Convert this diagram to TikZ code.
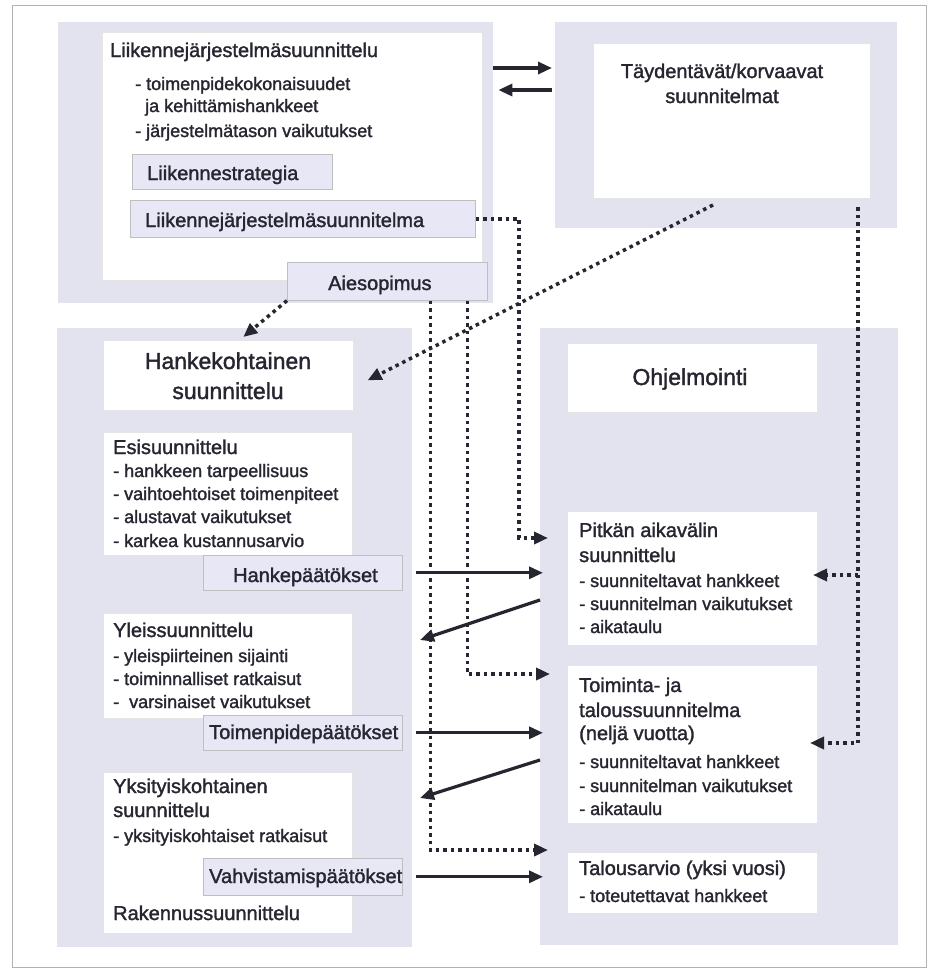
\documentclass[tikz,border=0pt]{standalone}
\usepackage{fontspec}
\setmainfont{Liberation Sans}[BoldFont={Liberation Sans}, BoldFeatures={FakeBold=1.6}]
\usetikzlibrary{arrows.meta}
\definecolor{lav}{RGB}{227,227,240}
\definecolor{lavlbl}{RGB}{231,231,245}
\definecolor{ink}{RGB}{38,38,48}
\tikzset{
  panel/.style={fill=lav, draw=none, inner sep=0pt, anchor=north west},
  wbox/.style={fill=white, draw=black!10, line width=0.6pt, inner sep=0pt, anchor=north west},
  lbl/.style={fill=lavlbl, draw=black!25, line width=0.6pt, inner sep=0pt, anchor=north west},
  tx/.style={anchor=base west, inner sep=0pt, text=ink, font=\fontsize{18}{22}\selectfont\bfseries},
  hd/.style={tx, font=\fontsize{20}{24}\selectfont\bfseries},
  hdc/.style={hd, anchor=base},
  big/.style={anchor=base, inner sep=0pt, text=ink, font=\fontsize{23}{28}\selectfont\bfseries},
  arr/.style={draw=ink, line width=3.2pt, -{Triangle[length=14pt,width=12pt]}},
  dotarr/.style={draw=ink, line width=3.5pt, dash pattern=on 3.5pt off 4pt,
                 -{Triangle[length=14pt,width=12pt]}},
}
\begin{document}
\begin{tikzpicture}[x=1pt,y=-1pt]
  \useasboundingbox (0,0) rectangle (931,970);
  % faint outer frame
  \draw[black!30, line width=0.8pt] (12,5) rectangle (926,967);

  % lavender background panels
  \node[panel, minimum width=435pt, minimum height=281pt] (P1) at (58,22) {};
  \node[panel, minimum width=342pt, minimum height=206pt] (P2) at (555,22) {};
  \node[panel, minimum width=355pt, minimum height=619pt] (P3) at (57,328) {};
  \node[panel, minimum width=358pt, minimum height=617pt] (P4) at (540,328) {};

  % white content boxes
  \node[wbox, minimum width=380pt, minimum height=248pt] (W1) at (102,32) {};
  \node[wbox, minimum width=277pt, minimum height=155pt] (W2) at (593,43) {};
  \node[wbox, minimum width=250pt, minimum height=70pt] (hank) at (103,340) {};
  \node[wbox, minimum width=249pt, minimum height=123pt] (esi) at (103,432) {};
  \node[wbox, minimum width=249pt, minimum height=105pt] (yle) at (103,613) {};
  \node[wbox, minimum width=249pt, minimum height=161pt] (yks) at (103,772) {};
  \node[wbox, minimum width=250pt, minimum height=69pt] (ohj) at (567,343) {};
  \node[wbox, minimum width=250pt, minimum height=134pt] (pitk) at (567,511) {};
  \node[wbox, minimum width=250pt, minimum height=158pt] (toim) at (567,665) {};
  \node[wbox, minimum width=250pt, minimum height=61pt] (talo) at (567,852) {};

  % label boxes
  \node[lbl, minimum width=200pt, minimum height=35pt] (strat) at (132,154) {};
  \node[lbl, minimum width=345pt, minimum height=37pt] (ljs) at (130,200) {};
  \node[lbl, minimum width=200pt, minimum height=38pt] (aie) at (287,262) {};
  \node[lbl, minimum width=199pt, minimum height=35pt] (hp) at (203,555) {};
  \node[lbl, minimum width=199pt, minimum height=35pt] (tp) at (203,715) {};
  \node[lbl, minimum width=199pt, minimum height=37pt] (vp) at (203,858) {};

  % texts: transport system planning
  \node[hd] (w1a) at (110,57) {Liikennejärjestelmäsuunnittelu};
  \node[tx] (w1b) at (135,90) {- toimenpidekokonaisuudet};
  \node[tx] (w1c) at (145,112) {ja kehittämishankkeet};
  \node[tx] (w1d) at (135,137) {- järjestelmätason vaikutukset};
  \node[hd] (strt) at (147,180) {Liikennestrategia};
  \node[hd] (ljst) at (145,227) {Liikennejärjestelmäsuunnitelma};
  \node[hd] (aiet) at (328,290) {Aiesopimus};

  % complementary plans
  \node[hdc] (w2a) at (722,78) {Täydentävät/korvaavat};
  \node[hdc] (w2b) at (722,103) {suunnitelmat};

  % project planning
  \node[big] (hk1) at (228,369) {Hankekohtainen};
  \node[big] (hk2) at (228,399) {suunnittelu};
  \node[hd] (es0) at (113,454) {Esisuunnittelu};
  \node[tx] (es1) at (113,477) {- hankkeen tarpeellisuus};
  \node[tx] (es2) at (113,500) {- vaihtoehtoiset toimenpiteet};
  \node[tx] (es3) at (113,523) {- alustavat vaikutukset};
  \node[tx] (es4) at (113,547) {- karkea kustannusarvio};
  \node[hd] (hpt) at (233,582) {Hankepäätökset};
  \node[hd] (yl0) at (113,637) {Yleissuunnittelu};
  \node[tx] (yl1) at (113,662) {- yleispiirteinen sijainti};
  \node[tx] (yl2) at (113,685) {- toiminnalliset ratkaisut};
  \node[tx] (yl3) at (113,708) {-\ \ varsinaiset vaikutukset};
  \node[hd] (tpt) at (209,739) {Toimenpidepäätökset};
  \node[hd] (yk0) at (113,793) {Yksityiskohtainen};
  \node[hd] (yk1) at (113,817) {suunnittelu};
  \node[tx] (yk2) at (113,842) {- yksityiskohtaiset ratkaisut};
  \node[hd] (vpt) at (209,883) {Vahvistamispäätökset};
  \node[hd] (yk3) at (113,920) {Rakennussuunnittelu};

  % programming
  \node[big] (oh) at (690,385) {Ohjelmointi};
  \node[hd] (pk0) at (579,537) {Pitkän aikavälin};
  \node[hd] (pk1) at (579,562) {suunnittelu};
  \node[tx] (pk2) at (579,587) {- suunniteltavat hankkeet};
  \node[tx] (pk3) at (579,610) {- suunnitelman vaikutukset};
  \node[tx] (pk4) at (579,633) {- aikataulu};
  \node[hd] (ts0) at (579,692) {Toiminta- ja};
  \node[hd] (ts1) at (579,717) {taloussuunnitelma};
  \node[hd] (ts2) at (579,740) {(neljä vuotta)};
  \node[tx] (ts3) at (579,768) {- suunniteltavat hankkeet};
  \node[tx] (ts4) at (579,792) {- suunnitelman vaikutukset};
  \node[tx] (ts5) at (579,815) {- aikataulu};
  \node[hd] (ta0) at (579,875) {Talousarvio (yksi vuosi)};
  \node[tx] (ta1) at (579,902) {- toteutettavat hankkeet};

  % connector end points
  \coordinate (yA) at (0,68);
  \coordinate (yB) at (0,90);
  \coordinate (tipP) at (548,538);
  \coordinate (tipT) at (550,674);
  \coordinate (tipB) at (548,850);
  \coordinate (rTop) at (858,207);
  \coordinate (rMid) at (858,575);
  \coordinate (tipR1) at (813,575);
  \coordinate (tipR2) at (810,743);
  \coordinate (dgS) at (713,205);
  \coordinate (d1S) at (540,600);
  \coordinate (d1E) at (420,640);
  \coordinate (d2S) at (540,760);
  \coordinate (d2E) at (420,798);

  % two-way link between the upper panels
  \draw[arr] (P1.east |- yA) -- ([xshift=-3pt]P2.west |- yA);
  \draw[arr] ([xshift=-3pt]P2.west |- yB) -- ([xshift=5pt]P1.east |- yB);

  % dotted links
  \draw[dotarr] (ljs.east) -| ([xshift=-29pt]tipP) -- (tipP);
  \draw[dotarr] (aie.south west) -- ([xshift=15pt,yshift=3pt]hank.north);
  \draw[dotarr] (dgS) -- ([xshift=14pt,yshift=-5pt]hank.east);
  \draw[dotarr] ([xshift=43pt]aie.south) |- (tipB);
  \draw[dotarr] ([xshift=80pt]aie.south) |- (tipT);
  \draw[dotarr] (rTop) |- (tipR2);
  \draw[dotarr] (rMid) -- (tipR1);

  % decisions to programming, and back
  \draw[arr] ([xshift=13pt]hp.east) -- ([xshift=-24pt]pitk.west |- hp.east);
  \draw[arr] ([xshift=13pt]tp.east) -- ([xshift=-24pt]toim.west |- tp.east);
  \draw[arr] ([xshift=13pt]vp.east) -- ([xshift=-24pt]talo.west |- vp.east);
  \draw[arr] (d1S) -- (d1E);
  \draw[arr] (d2S) -- (d2E);
\end{tikzpicture}
\end{document}
